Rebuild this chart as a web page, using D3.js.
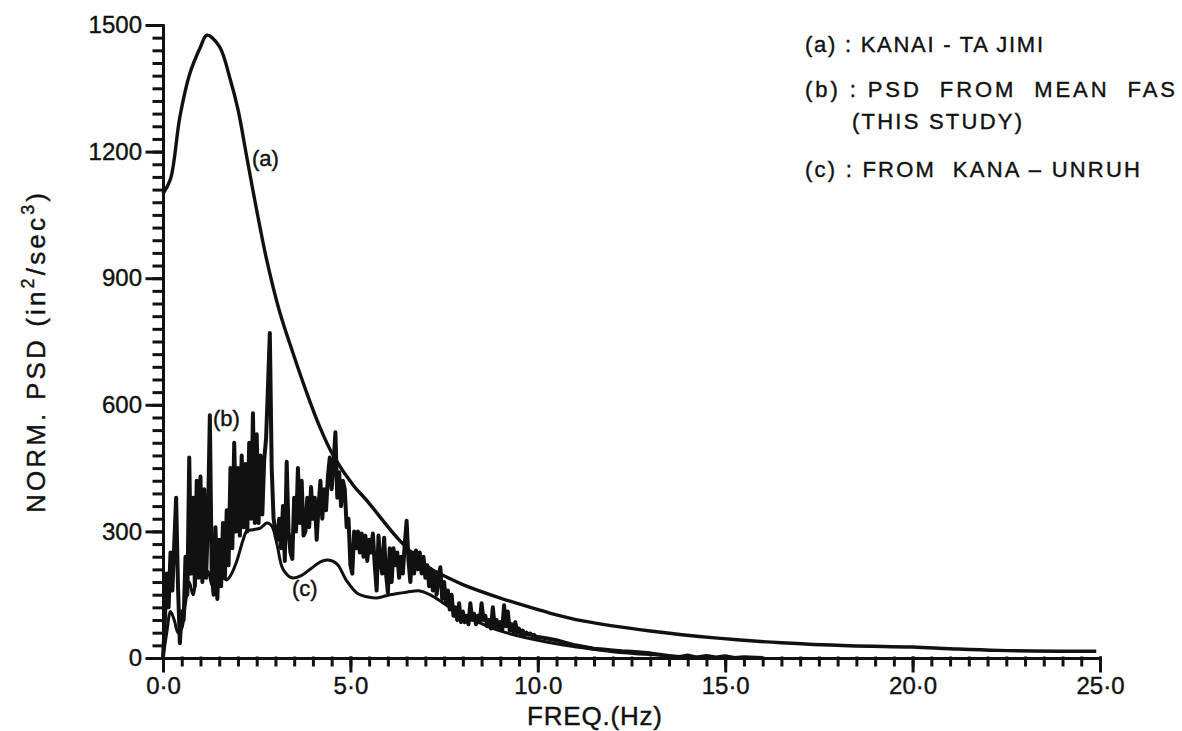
<!DOCTYPE html>
<html>
<head>
<meta charset="utf-8">
<script src="https://cdn.jsdelivr.net/npm/d3@7"></script>
<style>
  html, body { margin: 0; padding: 0; background: #fff; }
  svg { display: block; }
  text { font-family: "Liberation Sans", "DejaVu Sans", sans-serif; fill: #111; stroke: #111; stroke-width: 0.4px; }
</style>
</head>
<body>
<svg id="chart" width="1182" height="731"></svg>
<script>
// ---- (a) Kanai-Tajimi spectrum, read at these frequencies (Hz) ----
const aFreq = [0, 0.2, 0.45, 0.72, 1.0, 1.17, 1.5, 1.8, 2.0, 2.25, 2.5, 2.77, 3.1, 3.47, 3.84,
               4.19, 4.54, 5.07, 5.44, 6.3, 7.1, 7.66, 8.0, 9.0, 9.8, 10.3, 11.2, 13.0, 14.8,
               16.5, 18.3, 20.0, 21.0, 22.3, 24.9];
const aPsd  = [1100, 1135, 1282, 1386, 1448, 1476, 1450, 1369, 1300, 1180, 1061, 942, 824, 722, 627,
               546, 480, 410, 373, 280, 214, 188, 174, 142, 120, 107, 88, 64, 47,
               36, 29, 26, 22, 18, 16];

// ---- (b) PSD from mean FAS: 0.05 Hz spacing from 0 to 10 Hz ----
const bStep = 0.05;
const bPsd = [
  0, 90, 200, 120, 250, 160, 270, 380, 170, 35, 110, 90, 240, 150, 475, 200, 380, 170, 420, 190,
  430, 180, 400, 190, 330, 575, 200, 150, 310, 140, 280, 170, 320, 190, 350, 220, 450, 260, 510, 300,
  450, 290, 480, 310, 460, 300, 510, 330, 580, 320, 530, 320, 480, 340, 470, 520, 640, 770, 450, 330,
  300, 280, 330, 260, 360, 230, 465, 300, 250, 235, 380, 300, 450, 320, 420, 290, 300, 380, 310, 405,
  330, 380, 280, 360, 420, 330, 400, 350, 430, 475, 400, 460, 535, 380, 440, 360, 420, 400, 310, 330,
  220, 200, 300, 260, 300, 250, 295, 240, 290, 230, 280, 250, 295, 220, 160, 290, 230, 200, 285, 200,
  155, 260, 180, 260, 220, 250, 190, 240, 200, 270, 325, 230, 180, 250, 200, 255, 210, 250, 200, 240,
  190, 220, 170, 210, 160, 200, 150, 190, 215, 140, 180, 130, 160, 115, 150, 100, 120, 90, 130, 85,
  110, 85, 100, 80, 130, 90, 105, 80, 100, 85, 130, 90, 100, 75, 90, 70, 120, 75, 90, 70,
  85, 65, 125, 75, 110, 65, 80, 60, 85, 60, 70, 55, 65, 55, 60, 55, 58, 52, 55, 50,
  50
];
// (b) beyond 10 Hz
const bTailFreq = [10.25, 10.5, 10.75, 11, 11.25, 11.5, 11.75, 12, 12.25, 12.5, 12.75, 13, 13.25,
                   13.5, 13.75, 14, 14.25, 14.5, 14.75, 15, 15.25, 15.5, 16];
const bTailPsd  = [46, 42, 36, 30, 26, 22, 20, 18, 16, 15, 13, 11, 8,
                   5, 2, 6, 1, 5, 1, 4, 0, 2, 0];

// ---- (c) Kana-Unruh spectrum ----
const cFreq = [0, 0.1, 0.2, 0.3, 0.4, 0.5, 0.6, 0.7, 0.8, 0.9, 1.0, 1.1, 1.2, 1.3, 1.4, 1.5, 1.6,
               1.7, 1.8, 1.97, 2.13, 2.24, 2.4, 2.6, 2.77, 2.9, 3.04, 3.2, 3.44, 3.7, 3.95, 4.2,
               4.4, 4.64, 4.9, 5.2, 5.45, 5.7, 6.06, 6.5, 6.86, 7.12, 7.4, 7.66, 8.19, 8.8, 9.4,
               10.0, 10.6, 11.2, 12.0, 13.0, 14.0, 15.0];
const cPsd  = [0, 60, 110, 90, 60, 70, 130, 180, 150, 200, 220, 190, 205, 175, 165, 180, 190,
               185, 195, 230, 278, 301, 304, 308, 320, 313, 270, 211, 190, 196, 212, 228,
               232, 223, 183, 152, 145, 142, 150, 156, 159, 150, 135, 119, 95, 70, 54,
               42, 32, 24, 15, 8, 3, 0];

// ---- axes ----
const xTicks = [0, 5, 10, 15, 20, 25];
const xTickLabels = ["0·0", "5·0", "10·0", "15·0", "20·0", "25·0"];
const yTicks = [0, 300, 600, 900, 1200, 1500];
const yTickLabels = ["0", "300", "600", "900", "1200", "1500"];
const xMinorStep = 0.5;
const yMinorStep = 30;

const legendLines = [
  { text: "(a) : KANAI - TA JIMI", x: 805, y: 52, len: 238 },
  { text: "(b) : PSD  FROM  MEAN  FAS", x: 805, y: 97, len: 370 },
  { text: "(THIS STUDY)", x: 852, y: 129, len: 170 },
  { text: "(c) : FROM  KANA – UNRUH", x: 805, y: 177, len: 335 }
];

const ink = "#111";
const svg = d3.select("#chart");

const x = d3.scaleLinear().domain([0, 25]).range([163, 1100]);
const y = d3.scaleLinear().domain([0, 1500]).range([658, 25]);

function inkAxis(g, width) {
  g.selectAll("line").attr("stroke", ink).attr("stroke-width", width).attr("stroke-linecap", "square");
  g.select(".domain").attr("stroke", ink).attr("stroke-width", width);
}

// y axis: minor ticks every 30, labelled ticks every 300
svg.append("g")
  .attr("transform", `translate(${x(0)},0)`)
  .call(d3.axisLeft(y).tickValues(d3.range(0, 1500 + 1, yMinorStep)).tickSize(9).tickSizeOuter(0).tickFormat(""))
  .call(g => inkAxis(g, 3));
svg.append("g")
  .attr("transform", `translate(${x(0)},0)`)
  .call(d3.axisLeft(y).tickValues(yTicks).tickSize(16).tickSizeOuter(0).tickPadding(5)
        .tickFormat((d, i) => yTickLabels[i]))
  .call(g => inkAxis(g, 3))
  .call(g => g.selectAll("text").attr("font-family", null).style("font-size", "24px").attr("fill", ink));

// x axis: minor ticks every 0.5 Hz, labelled ticks every 5 Hz
svg.append("g")
  .attr("transform", `translate(0,${y(0)})`)
  .call(d3.axisBottom(x).tickValues(d3.range(0, 25 + 0.001, xMinorStep)).tickSize(7).tickSizeOuter(0).tickFormat(""))
  .call(g => inkAxis(g, 3));
svg.append("g")
  .attr("transform", `translate(0,${y(0)})`)
  .call(d3.axisBottom(x).tickValues(xTicks).tickSize(13).tickSizeOuter(0).tickPadding(6)
        .tickFormat((d, i) => xTickLabels[i]))
  .call(g => inkAxis(g, 3))
  .call(g => g.selectAll("text").attr("font-family", null).style("font-size", "24px").attr("fill", ink));

// ---- curves ----
const aData = aFreq.map((f, i) => ({ f, v: aPsd[i] }));
const bData = bPsd.map((v, i) => ({ f: i * bStep, v }))
  .concat(bTailFreq.map((f, i) => ({ f, v: bTailPsd[i] })));
const cData = cFreq.map((f, i) => ({ f, v: cPsd[i] }));

const smooth = d3.line().x(d => x(d.f)).y(d => y(d.v)).curve(d3.curveCatmullRom.alpha(0.5));
const jagged = d3.line().x(d => x(d.f)).y(d => y(d.v));

svg.append("path").datum(cData).attr("d", smooth)
  .attr("fill", "none").attr("stroke", ink).attr("stroke-width", 3).attr("stroke-linejoin", "round");
svg.append("path").datum(bData).attr("d", jagged)
  .attr("fill", "none").attr("stroke", ink).attr("stroke-width", 4).attr("stroke-linejoin", "round");
svg.append("path").datum(aData).attr("d", smooth)
  .attr("fill", "none").attr("stroke", ink).attr("stroke-width", 3.4).attr("stroke-linejoin", "round");

// curve tags
const tags = [
  { t: "(a)", x: 252, y: 166 },
  { t: "(b)", x: 213, y: 426 },
  { t: "(c)", x: 292, y: 596 }
];
svg.selectAll("text.tag").data(tags).join("text")
  .attr("class", "tag")
  .attr("x", d => d.x).attr("y", d => d.y)
  .style("font-size", "22px")
  .text(d => d.t);

// ---- axis titles ----
const yt = svg.append("text")
  .attr("transform", "translate(45,353) rotate(-90)")
  .attr("text-anchor", "middle")
  .attr("textLength", 320)
  .style("font-size", "26px");
yt.append("tspan").text("NORM. PSD (in");
yt.append("tspan").attr("dy", -11).style("font-size", "18px").text("2");
yt.append("tspan").attr("dy", 11).text("/sec");
yt.append("tspan").attr("dy", -11).style("font-size", "18px").text("3");
yt.append("tspan").attr("dy", 11).text(")");

svg.append("text")
  .attr("x", 527).attr("y", 725)
  .attr("textLength", 135)
  .style("font-size", "26px")
  .text("FREQ.(Hz)");

// ---- legend ----
svg.selectAll("text.legend").data(legendLines).join("text")
  .attr("class", "legend")
  .attr("x", d => d.x).attr("y", d => d.y)
  .attr("textLength", d => d.len)
  .attr("xml:space", "preserve")
  .style("white-space", "pre")
  .style("font-size", "22px")
  .text(d => d.text);
</script>
</body>
</html>
